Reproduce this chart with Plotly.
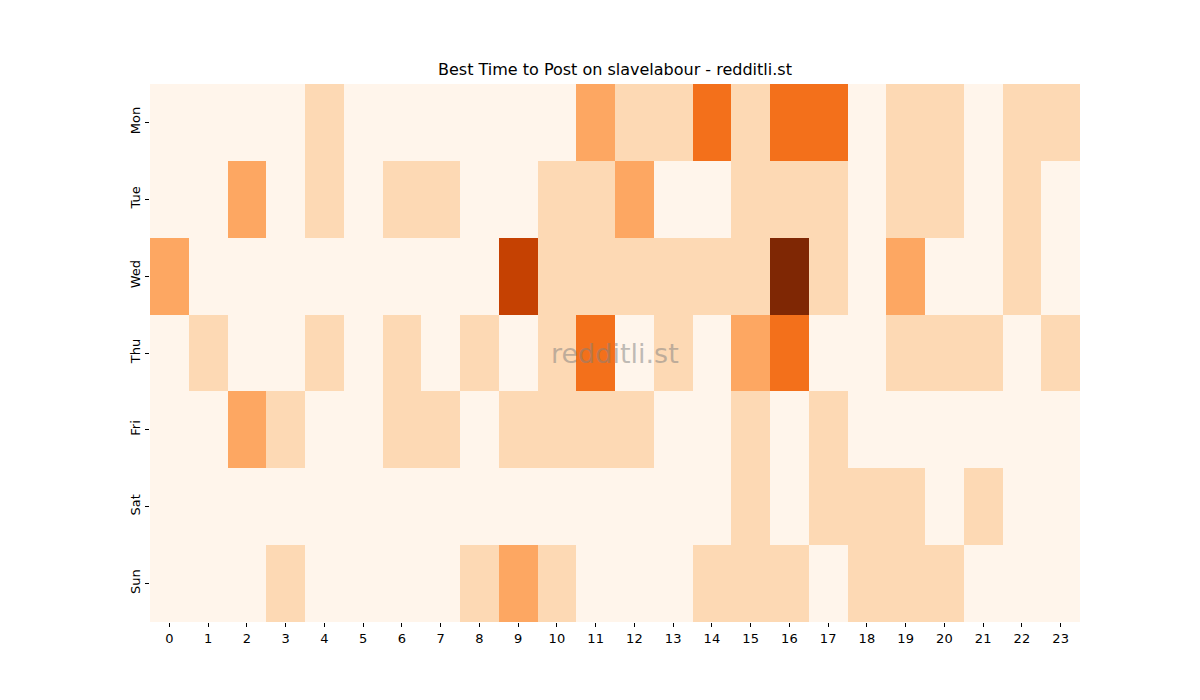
import plotly.graph_objects as go

# Posting activity level by weekday (rows) and hour of day (columns)
days = ['Mon', 'Tue', 'Wed', 'Thu', 'Fri', 'Sat', 'Sun']
hours = list(range(24))

mon = [0, 0, 0, 0, 1, 0, 0, 0, 0, 0, 0, 2, 1, 1, 3, 1, 3, 3, 0, 1, 1, 0, 1, 1]
tue = [0, 0, 2, 0, 1, 0, 1, 1, 0, 0, 1, 1, 2, 0, 0, 1, 1, 1, 0, 1, 1, 0, 1, 0]
wed = [2, 0, 0, 0, 0, 0, 0, 0, 0, 4, 1, 1, 1, 1, 1, 1, 5, 1, 0, 2, 0, 0, 1, 0]
thu = [0, 1, 0, 0, 1, 0, 1, 0, 1, 0, 1, 3, 0, 1, 0, 2, 3, 0, 0, 1, 1, 1, 0, 1]
fri = [0, 0, 2, 1, 0, 0, 1, 1, 0, 1, 1, 1, 1, 0, 0, 1, 0, 1, 0, 0, 0, 0, 0, 0]
sat = [0, 0, 0, 0, 0, 0, 0, 0, 0, 0, 0, 0, 0, 0, 0, 1, 0, 1, 1, 1, 0, 1, 0, 0]
sun = [0, 0, 0, 1, 0, 0, 0, 0, 1, 2, 1, 0, 0, 0, 1, 1, 1, 0, 1, 1, 1, 0, 0, 0]

z = [mon, tue, wed, thu, fri, sat, sun]

fig = go.Figure()

fig.add_trace(
    go.Heatmap(z=z,
               x=hours,
               y=days,
               colorscale='Oranges',
               zmin=0, zmax=5,
               showscale=False,
               xgap=0, ygap=0,
    )
)

fig.update_xaxes(
    tickmode='array',
    tickvals=hours,
    ticktext=[str(h) for h in hours],
    ticks='outside', ticklen=4, tickcolor='black',
    showgrid=False, zeroline=False,
    tickfont=dict(size=13, color='black'),
)

fig.update_yaxes(
    autorange='reversed',
    ticks='outside', ticklen=4, tickcolor='black',
    tickangle=-90,
    showgrid=False, zeroline=False,
    tickfont=dict(size=13, color='black'),
)

# watermark
fig.add_annotation(
    text='redditli.st',
    x=0.5, y=0.5, xref='paper', yref='paper',
    showarrow=False,
    font=dict(size=27, color='rgba(128,128,128,0.5)', family='DejaVu Sans'),
)

fig.update_layout(
    width=1200, height=700,
    margin=dict(l=142, r=128, t=76, b=86),
    paper_bgcolor='white', plot_bgcolor='white',
    font=dict(family='DejaVu Sans', color='black'),
    title=dict(text='Best Time to Post on slavelabour - redditli.st',
               x=0.5058, xanchor='center', y=0.904, yanchor='bottom',
               font=dict(size=16, color='black')),
)

fig.write_html('out.html')
